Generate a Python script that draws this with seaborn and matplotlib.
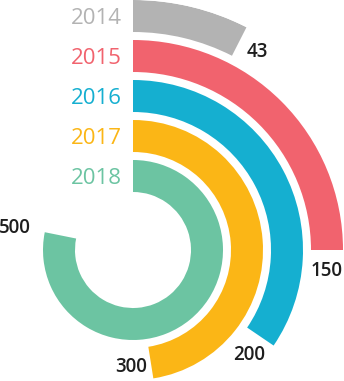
import numpy as np
import pandas as pd
import matplotlib
matplotlib.use('Agg')
import matplotlib.pyplot as plt
import seaborn as sns

# ---- data ----
years = ['2014', '2015', '2016', '2017', '2018']
value_labels = ['43', '150', '200', '300', '500']
# arc extent of each ring, on a scale where one full turn = 600 (read from the arcs)
arc_values = [45, 150, 207, 285, 469]
FULL_TURN = 600
colors = ['#b3b3b3', '#f1636e', '#15afd0', '#fbb616', '#6cc4a2']

sns.set_theme(style='white')
plt.rcParams['font.family'] = ['Open Sans', 'DejaVu Sans']

order = years[::-1]  # innermost ring first
df = pd.DataFrame({'year': years,
                   'theta': np.array(arc_values) / FULL_TURN * 2 * np.pi})

W, H = 344, 381
fig = plt.figure(figsize=(W / 100, H / 100), dpi=100)
cx, cy, R = 133, 250, 250  # centre and outer radius in pixels
ax = fig.add_axes([(cx - R) / W, (H - cy - R) / H, 2 * R / W, 2 * R / H],
                  projection='polar')

sns.barplot(data=df, x='theta', y='year', hue='year', order=order,
            palette=dict(zip(years, colors)), saturation=1, orient='h',
            width=0.8, linewidth=0, legend=False, ax=ax)

ax.set_theta_zero_location('N')
ax.set_theta_direction(-1)
ax.set_xlim(0, 2 * np.pi)
ax.set_ylim(-1.85, 4.4)
ax.set_axis_off()

# year labels at the start of each ring
for yr, col in zip(years, colors):
    r = order.index(yr)
    ax.annotate(yr, xy=(0, r), xytext=(-11, -7.5), textcoords='offset pixels',
                ha='right', va='baseline', fontsize=16, color=col)

# value labels after the end of each ring
shift = [('along', 20), ('along', 19), ('along', 20), ('along', 20), ('out', 46)]
for yr, lab, th, (mode, d) in zip(years, value_labels, df['theta'], shift):
    r = order.index(yr)
    if mode == 'along':
        dx, dy = d * np.cos(th), -d * np.sin(th)
    else:
        dx, dy = d * np.sin(th), d * np.cos(th)
    ax.annotate(lab, xy=(th, r), xytext=(dx, dy - 6.7), textcoords='offset pixels',
                ha='center', va='baseline', fontsize=13.5, fontweight='semibold',
                color='#1e1e1e')

fig.savefig('out.png', dpi=100)
